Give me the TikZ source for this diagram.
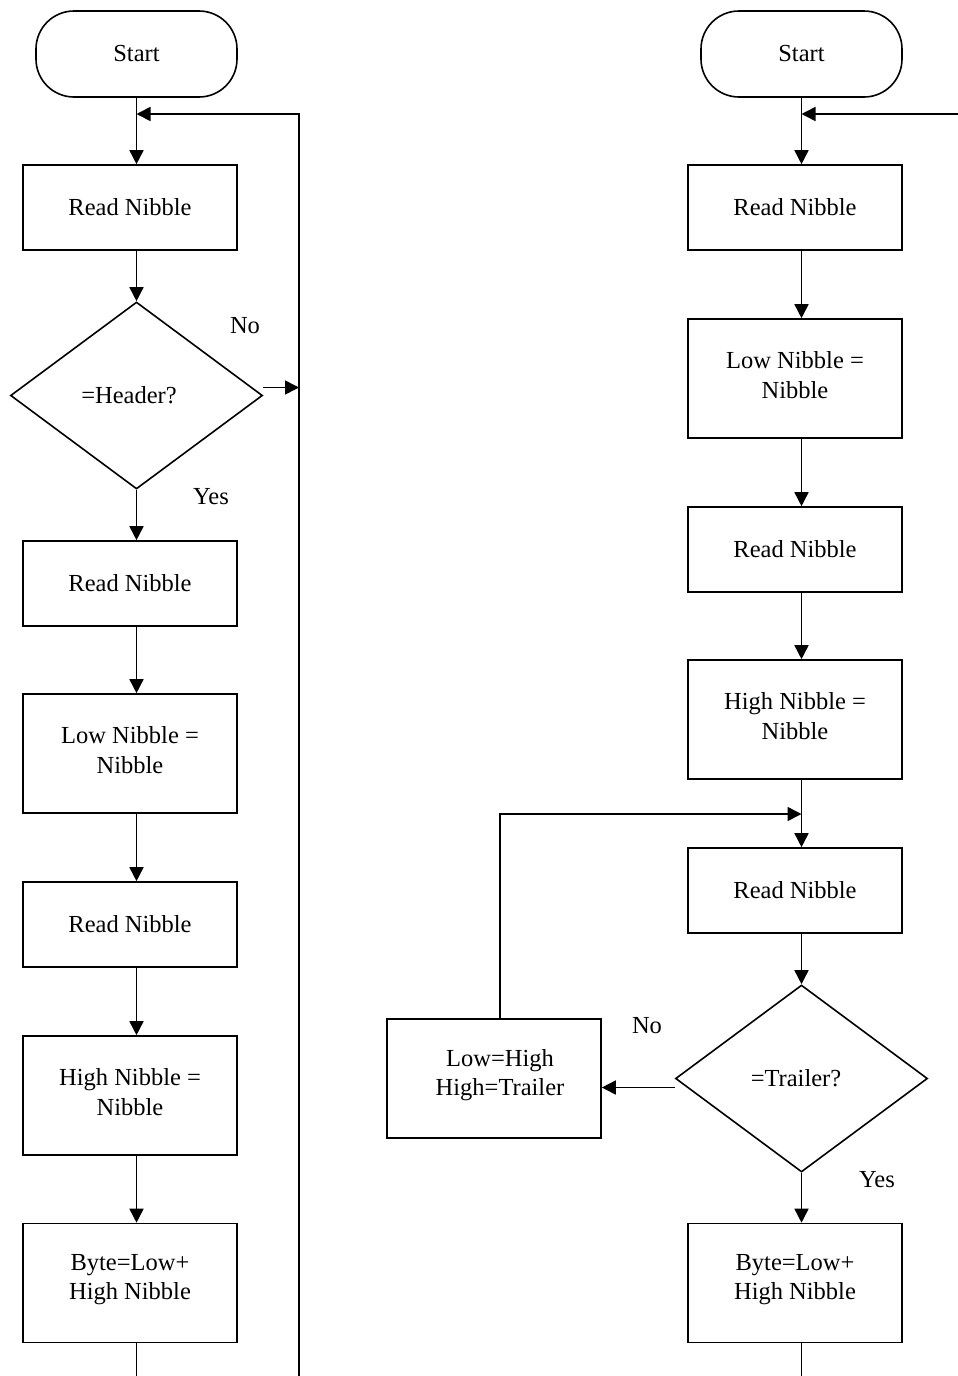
\documentclass[tikz,border=0pt]{standalone}
\usepackage{fontspec}
\setmainfont{Liberation Serif}
\usetikzlibrary{arrows.meta,shapes.geometric}
\begin{document}
\begin{tikzpicture}[x=1pt,y=-1pt,
  every node/.style={font=\fontsize{24.5}{29.5}\selectfont, align=center},
  line/.style={line width=1.6pt},
  arr/.style={line, -{Triangle[length=14pt,width=14pt]}},
  proc/.style={draw, line width=1.6pt, minimum width=214pt, inner sep=0pt},
  short/.style={proc, minimum height=85pt},
  tall/.style={proc, minimum height=119pt},
  txt/.style={inner sep=0pt, yshift=3.5pt},
  term/.style={draw, line width=1.6pt, rounded corners=38pt, minimum width=201pt, minimum height=86pt, inner sep=0pt},
  decision/.style={draw, line width=1.6pt, diamond, minimum width=252pt, minimum height=187pt, inner sep=0pt},
  lbl/.style={inner sep=0pt}]
\useasboundingbox (0,0) rectangle (958,1376);

% ---- left flow: header search and first byte ----
\node[term]  (start1) at (136.5,54) {Start};
\node[short] (rn1)   at (130,207.5) {Read Nibble};
\node[decision] (hdr) at (136.5,395.5) {};
\node[lbl] (hdrt) at (129,395.5) {=Header?};
\node[short] (rn2)   at (130,583.5) {Read Nibble};
\node[tall]  (low1)  at (130,753.5) {};
\node[txt]   (low1t) at (low1) {Low Nibble =\\Nibble};
\node[short] (rn3)   at (130,924.5) {Read Nibble};
\node[tall]  (high1) at (130,1095.5) {};
\node[txt]   (high1t) at (high1) {High Nibble =\\Nibble};
\node[tall]  (byte1) at (130,1283) {};
\node[txt]   (byte1t) at (byte1) {Byte=Low+\\High Nibble};

\node[lbl] at (245,326) {No};
\node[lbl] at (211,497) {Yes};

\coordinate (loopbot) at (299,1376);
\coordinate (loopjoin) at (136.5,114);

\draw[arr] (start1.south) -- (start1.south |- rn1.north);
\draw[arr] (start1.south |- rn1.south) -- (hdr.north);
\draw[arr] (hdr.south) -- (hdr.south |- rn2.north);
\draw[arr] (start1.south |- rn2.south) -- (start1.south |- low1.north);
\draw[arr] (start1.south |- low1.south) -- (start1.south |- rn3.north);
\draw[arr] (start1.south |- rn3.south) -- (start1.south |- high1.north);
\draw[arr] (start1.south |- high1.south) -- (start1.south |- byte1.north);
\draw[line] (start1.south |- byte1.south) -- (start1.south |- loopbot);
\draw[arr] (loopbot) |- (loopjoin);
\draw[arr] ([yshift=8pt]hdr.east) -- ([yshift=8pt]hdr.east -| loopbot);

% ---- right flow: byte loop until trailer ----
\node[term]  (start2) at (801.5,54) {Start};
\node[short] (rn4)   at (795,207.5) {Read Nibble};
\node[tall]  (low2)  at (795,378.5) {};
\node[txt]   (low2t) at (low2) {Low Nibble =\\Nibble};
\node[short] (rn5)   at (795,549.5) {Read Nibble};
\node[tall]  (high2) at (795,719.5) {};
\node[txt]   (high2t) at (high2) {High Nibble =\\Nibble};
\node[short] (rn6)   at (795,890.5) {Read Nibble};
\node[decision] (trl) at (801.5,1078.5) {};
\node[lbl] (trlt) at (796,1078.5) {=Trailer?};
\node[tall]  (swap)  at (494,1078.5) {};
\node[txt]   (swapt) at ([xshift=6pt]swap.center) {Low=High\\High=Trailer};
\node[tall]  (byte2) at (795,1283) {};
\node[txt]   (byte2t) at (byte2) {Byte=Low+\\High Nibble};

\node[lbl] at (647,1026) {No};
\node[lbl] at (877,1180) {Yes};

\coordinate (rloopin) at (958,114);
\coordinate (rloopjoin) at (801.5,114);
\coordinate (join2) at (801.5,814);
\coordinate (rbot) at (801.5,1376);

\draw[arr] (start2.south) -- (start2.south |- rn4.north);
\draw[arr] (rloopin) -- (rloopjoin);
\draw[arr] (start2.south |- rn4.south) -- (start2.south |- low2.north);
\draw[arr] (start2.south |- low2.south) -- (start2.south |- rn5.north);
\draw[arr] (start2.south |- rn5.south) -- (start2.south |- high2.north);
\draw[arr] (start2.south |- high2.south) -- (start2.south |- rn6.north);
\draw[arr] (start2.south |- rn6.south) -- (start2.south |- trl.north);
\draw[arr] (start2.south |- trl.south) -- (start2.south |- byte2.north);
\draw[line] (start2.south |- byte2.south) -- (rbot);
\draw[arr] ([yshift=-9pt]trl.west) -- ([yshift=-9pt]trl.west -| swap.east);
\draw[arr] ([xshift=6pt]swap.north) |- (join2);
\end{tikzpicture}
\end{document}
